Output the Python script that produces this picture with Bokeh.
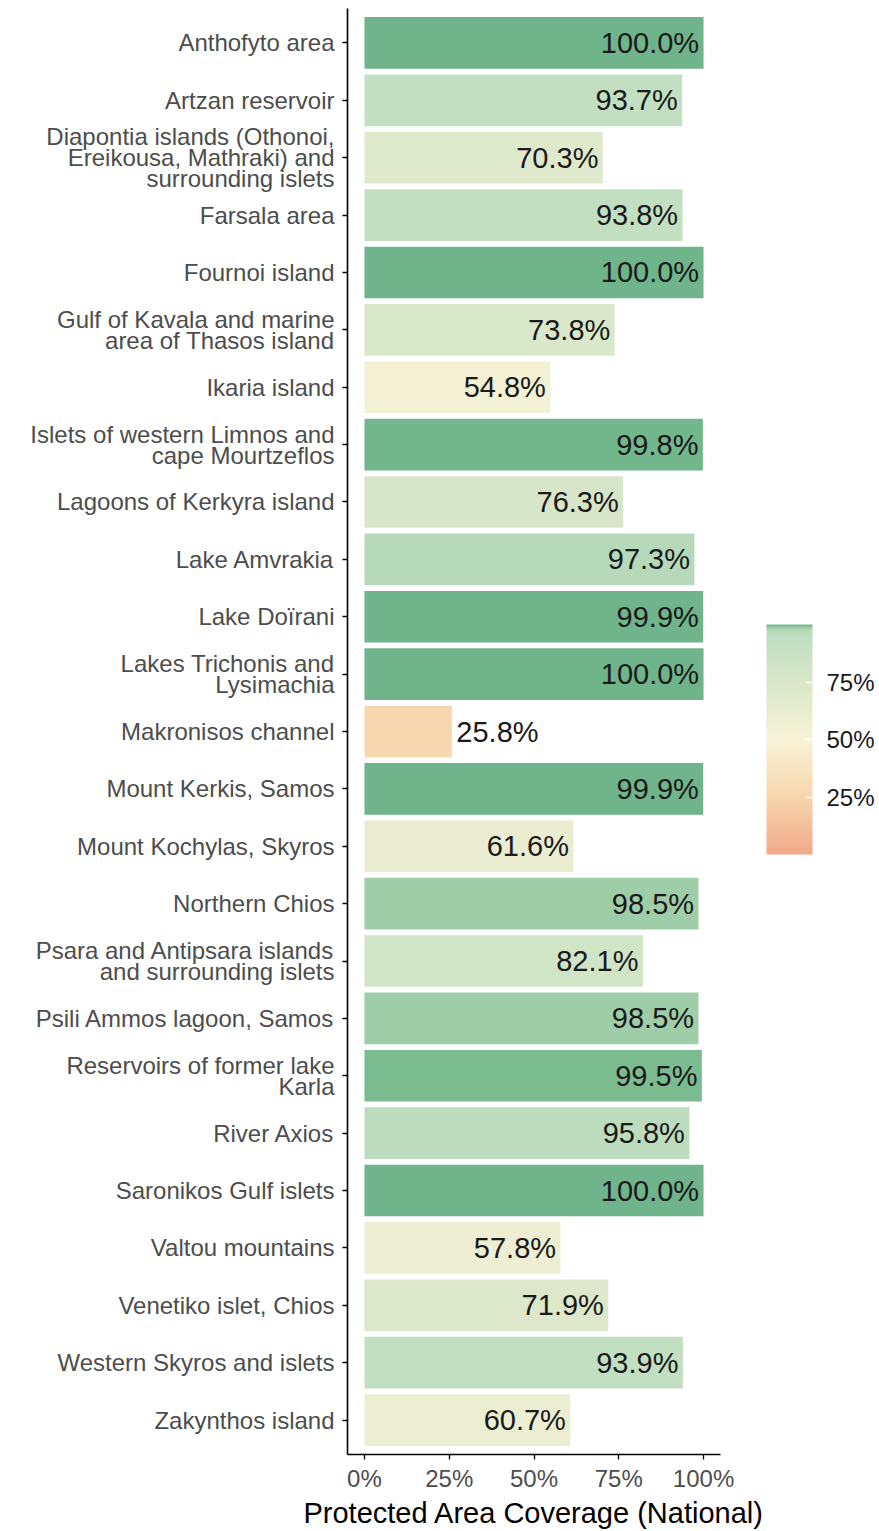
from bokeh.plotting import figure
from bokeh.models import (FactorRange, Range1d, FixedTicker, LinearColorMapper, ColorBar,
                          ColumnDataSource)
from bokeh.core.properties import value
from bokeh.embed import file_html
from bokeh.resources import INLINE

# ---------------- data ----------------
sites = [
    "Anthofyto area",
    "Artzan reservoir",
    "Diapontia islands (Othonoi,\nEreikousa, Mathraki) and\nsurrounding islets",
    "Farsala area",
    "Fournoi island",
    "Gulf of Kavala and marine\narea of Thasos island",
    "Ikaria island",
    "Islets of western Limnos and\ncape Mourtzeflos",
    "Lagoons of Kerkyra island",
    "Lake Amvrakia",
    "Lake Doïrani",
    "Lakes Trichonis and\nLysimachia",
    "Makronisos channel",
    "Mount Kerkis, Samos",
    "Mount Kochylas, Skyros",
    "Northern Chios",
    "Psara and Antipsara islands\nand surrounding islets",
    "Psili Ammos lagoon, Samos",
    "Reservoirs of former lake\nKarla",
    "River Axios",
    "Saronikos Gulf islets",
    "Valtou mountains",
    "Venetiko islet, Chios",
    "Western Skyros and islets",
    "Zakynthos island",
]
coverage = [100.0, 93.7, 70.3, 93.8, 100.0, 73.8, 54.8, 99.8, 76.3, 97.3, 99.9, 100.0, 25.8,
            99.9, 61.6, 98.5, 82.1, 98.5, 99.5, 95.8, 100.0, 57.8, 71.9, 93.9, 60.7]
x_ticks = [0, 25, 50, 75, 100]
x_tick_labels = ["0%", "25%", "50%", "75%", "100%"]
legend_ticks = [25, 50, 75]
legend_tick_labels = ["25%", "50%", "75%"]
x_title = "Protected Area Coverage (National)"

# ---------------- colour scale (style) ----------------
stops = [(0, "#F2A98A"), (25, "#F7D6AE"), (50, "#F8F3D6"), (75, "#D9E7C9"),
         (94, "#C2DFC2"), (97.3, "#B8DABB"), (98.5, "#A3CFAA"), (99.5, "#7DBD92"),
         (100, "#6FB48A")]


def hex2rgb(h):
    return tuple(int(h[i:i + 2], 16) for i in (1, 3, 5))


def interp(v):
    for (a, ca), (b, cb) in zip(stops[:-1], stops[1:]):
        if v <= b:
            t = (v - a) / (b - a)
            ra, rb = hex2rgb(ca), hex2rgb(cb)
            return "#%02x%02x%02x" % tuple(round(ra[i] + t * (rb[i] - ra[i])) for i in range(3))
    return stops[-1][1]


N = 1000
palette = [interp(100 * i / (N - 1)) for i in range(N)]
mapper = LinearColorMapper(palette=palette, low=0, high=100)

# ---------------- figure ----------------
factors = list(reversed(sites))
p = figure(width=879, height=1531, y_range=FactorRange(factors=factors, range_padding=0.1,
                                                       range_padding_units="absolute"),
           x_range=Range1d(-5, 105), output_backend="svg", toolbar_location=None,
           min_border_left=347, min_border_right=159, min_border_top=8, min_border_bottom=76)
p.outline_line_color = None
p.xgrid.grid_line_color = None
p.ygrid.grid_line_color = None

src = ColumnDataSource(dict(site=sites, val=coverage))
p.hbar(y="site", left=0, right="val", height=0.9, source=src,
       fill_color={"field": "val", "transform": mapper}, line_color=None)

inside = [i for i, v in enumerate(coverage) if v >= 40]
outside = [i for i, v in enumerate(coverage) if v < 40]
src_in = ColumnDataSource(dict(site=[sites[i] for i in inside],
                               x=[coverage[i] - 1.3 for i in inside],
                               lbl=["%.1f%%" % coverage[i] for i in inside]))
src_out = ColumnDataSource(dict(site=[sites[i] for i in outside],
                                x=[coverage[i] + 1.3 for i in outside],
                                lbl=["%.1f%%" % coverage[i] for i in outside]))
common = dict(text="lbl", text_font=value("Liberation Sans"), text_font_size="29px",
              text_color="#1a1a1a", text_baseline="middle")
p.text(x="x", y="site", source=src_in, text_align="right", **common)
p.text(x="x", y="site", source=src_out, text_align="left", **common)

# axes
for ax in (p.xaxis[0], p.yaxis[0]):
    ax.axis_line_color = "black"
    ax.axis_line_width = 1.6
    ax.major_tick_line_color = "black"
    ax.major_tick_line_width = 1.3
    ax.major_tick_in = 0
    ax.major_tick_out = 5
    ax.minor_tick_line_color = None
    ax.major_label_text_font = "Liberation Sans"
    ax.major_label_text_font_size = "24px"
    ax.major_label_text_color = "#4D4D4D"

p.yaxis.major_label_standoff = 8
p.yaxis.major_label_text_line_height = 0.78
p.xaxis.ticker = FixedTicker(ticks=x_ticks)
p.xaxis.major_label_overrides = dict(zip(x_ticks, x_tick_labels))
p.xaxis.major_label_standoff = 5
p.xaxis.axis_label = x_title
p.xaxis.axis_label_text_font = "Liberation Sans"
p.xaxis.axis_label_text_font_size = "29px"
p.xaxis.axis_label_text_font_style = "normal"
p.xaxis.axis_label_text_color = "black"
p.xaxis.axis_label_standoff = 2

cb = ColorBar(color_mapper=mapper, ticker=FixedTicker(ticks=legend_ticks),
              major_label_overrides=dict(zip(legend_ticks, legend_tick_labels)),
              width=46, height=230, location=(46, 600), padding=0, margin=47,
              bar_line_color=None, major_tick_line_color="white", major_tick_line_width=1.5,
              major_tick_in=7, major_tick_out=0, minor_tick_line_color=None,
              major_label_text_font="Liberation Sans", major_label_text_font_size="24px",
              major_label_text_color="#1a1a1a", label_standoff=14,
              background_fill_color=None, border_line_color=None)
p.add_layout(cb, "right")

open("out.html", "w").write(file_html(p, INLINE))
